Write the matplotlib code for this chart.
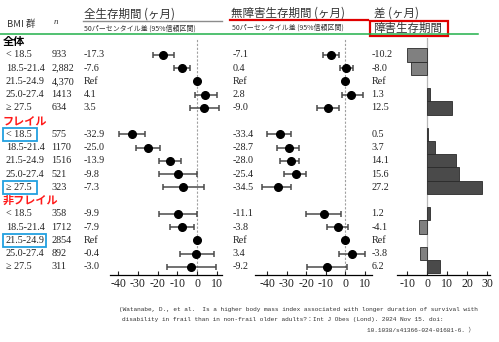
import numpy as np
import matplotlib
matplotlib.use('Agg')
import matplotlib.pyplot as plt
from matplotlib.patches import Rectangle

W, H = 499, 342

# row labels
bmi_groups = ['< 18.5', '18.5-21.4', '21.5-24.9', '25.0-27.4', '≥ 27.5']
sections = ['全体', 'フレイル', '非フレイル']
n_labels = ['933', '2,882', '4,370', '1413', '634',
            '575', '1170', '1516', '521', '323',
            '358', '1712', '2854', '892', '311']

# overall survival, 50th percentile difference (months)
os_labels = ['-17.3', '-7.6', 'Ref', '4.1', '3.5',
             '-32.9', '-25.0', '-13.9', '-9.8', '-7.3',
             '-9.9', '-7.9', 'Ref', '-0.4', '-3.0']
os_lo = [-22.2, -11.5, 0, -1.0, -3.6,
         -39.4, -31.1, -19.3, -19.1, -17.4,
         -19.3, -13.9, 0, -8.8, -15.2]
os_hi = [-11.7, -3.6, 0, 10.0, 11.2,
         -26.4, -18.6, -8.1, -0.2, 3.4,
         -0.2, -1.5, 0, 8.5, 9.8]

# disability-free survival
dfs_labels = ['-7.1', '0.4', 'Ref', '2.8', '-9.0',
              '-33.4', '-28.7', '-28.0', '-25.4', '-34.5',
              '-11.1', '-3.8', 'Ref', '3.4', '-9.2']
dfs_lo = [-11.3, -2.6, 0, -1.9, -14.7,
          -40.2, -34.8, -33.7, -31.6, -42.8,
          -19.9, -9.3, 0, -3.1, -19.6]
dfs_hi = [-3.1, 3.8, 0, 9.0, -3.1,
          -28.0, -23.9, -23.5, -20.1, -28.0,
          -2.4, 1.6, 0, 10.2, 1.0]

# difference = survival with disability
diff_labels = ['-10.2', '-8.0', 'Ref', '1.3', '12.5',
               '0.5', '3.7', '14.1', '15.6', '27.2',
               '1.2', '-4.1', 'Ref', '-3.8', '6.2']

fwd_ticks = [-40, -30, -20, -10, 0, 10]
diff_ticks = [-10, 0, 10, 20, 30]

JP = ['Noto Sans CJK JP', 'DejaVu Sans']
plt.rcParams['font.family'] = ['Liberation Serif', 'Noto Sans CJK JP']
plt.rcParams['axes.unicode_minus'] = False


def to_num(labels):
    return np.array([0.0 if s == 'Ref' else float(s) for s in labels])


# row positions: a header row before each block of 5
rows = []
header_rows = []
r = 0
for s in sections:
    header_rows.append(r)
    r += 1
    for _ in bmi_groups:
        rows.append(r)
        r += 1
rows = np.array(rows)
is_ref = np.array([s == 'Ref' for s in os_labels])

row0_px, row_step = 41.7, 13.24
y_bot_px, y_top_px = 275.0, 37.7
ylim = ((y_bot_px - row0_px) / row_step, (y_top_px - row0_px) / row_step)
ax_b = 1 - y_bot_px / H
ax_h = (y_bot_px - y_top_px) / H

fig = plt.figure(figsize=(W / 100, H / 100), dpi=100)

# background axis in pixel x / row y for the table text
bg = fig.add_axes([0, ax_b, 1, ax_h])
bg.set_xlim(0, W)
bg.set_ylim(*ylim)
bg.axis('off')

txt = dict(fontsize=7.3, color='#222222', va='center')
for i, row in enumerate(rows):
    bg.text(6, row, bmi_groups[i % 5], **txt)
    bg.text(51.5, row, n_labels[i], **txt)
    bg.text(83.5, row, os_labels[i], **txt)
    bg.text(232.5, row, dfs_labels[i], **txt)
    bg.text(371.5, row, diff_labels[i], **txt)

sec_colors = ['black', '#ff1a1a', '#ff1a1a']
for s, hr, c in zip(sections, header_rows, sec_colors):
    bg.text(3, hr, s, fontsize=8, fontweight='bold', color=c, va='center', family=JP)

# blue highlight boxes
for row_i, wpx in [(rows[5], 34), (rows[9], 34), (rows[12], 43.5)]:
    bg.add_patch(Rectangle((2.8, row_i - 0.47), wpx, 0.94, fill=False,
                           edgecolor='#22a0e0', lw=1.3, clip_on=False))


def forest(left_px, right_px, xlim, est, lo, hi):
    ax = fig.add_axes([left_px / W, ax_b, (right_px - left_px) / W, ax_h])
    m = ~is_ref
    ax.errorbar(est[m], rows[m], xerr=[est[m] - np.array(lo)[m], np.array(hi)[m] - est[m]],
                fmt='o', color='black', ecolor='#4a4a4a', elinewidth=1.1,
                capsize=2.4, capthick=1.1, markersize=5.5, zorder=3)
    ax.plot(est[is_ref], rows[is_ref], 'o', color='black', markersize=5.5, zorder=3)
    ax.axvline(0, color='#a0a0a0', lw=0.8, ls=(0, (2, 1.5)), zorder=1)
    ax.set_xlim(*xlim)
    ax.set_ylim(*ylim)
    ax.set_xticks(fwd_ticks)
    ax.set_yticks([])
    for sp in ['top', 'left', 'right']:
        ax.spines[sp].set_visible(False)
    ax.spines['bottom'].set_linewidth(0.9)
    ax.tick_params(axis='x', direction='in', length=3, width=0.8, labelsize=8.6,
                   pad=2, colors='#222222')
    ax.patch.set_alpha(0)
    return ax


forest(110, 221.7, (-44.2, 12.5), to_num(os_labels), os_lo, os_hi)
forest(255, 371.7, (-46.3, 13.6), to_num(dfs_labels), dfs_lo, dfs_hi)

# difference bars
ax3 = fig.add_axes([396.7 / W, ax_b, (490 - 396.7) / W, ax_h])
diff = to_num(diff_labels)
m = ~is_ref
bar_cols = ['#808080' if v < 0 else '#4a4a4a' for v in diff[m]]
ax3.barh(rows[m], diff[m], height=1.0, color=bar_cols, edgecolor='#2a2a2a', lw=0.6, zorder=2)
ax3.axvline(0, color='#b8b8b8', lw=0.9, zorder=1)
ax3.set_xlim(-15.4, 31.3)
ax3.set_ylim(*ylim)
ax3.set_xticks(diff_ticks)
ax3.set_yticks([])
for sp in ['top', 'left', 'right']:
    ax3.spines[sp].set_visible(False)
ax3.spines['bottom'].set_linewidth(0.9)
ax3.tick_params(axis='x', direction='in', length=3, width=0.8, labelsize=8.6,
                pad=2, colors='#222222')
ax3.patch.set_alpha(0)


# header
def fx(x):
    return x / W


def fy(y):
    return 1 - y / H


hdr = dict(color='#333333', va='center', family=JP)
fig.text(fx(7), fy(24), 'BMI 群', fontsize=6.8, **hdr)
fig.text(fx(54), fy(22), 'n', fontsize=6.5, style='italic', color='#333333', va='center')
fig.text(fx(84), fy(14.5), '全生存期間 (ヶ月)', fontsize=8.3, **hdr)
fig.text(fx(84), fy(28.5), '50パーセンタイル差 (95%信頼区間)', fontsize=5.0, **hdr)
fig.text(fx(231), fy(13), '無障害生存期間 (ヶ月)', fontsize=8.3, **hdr)
fig.text(fx(232), fy(28), '50パーセンタイル差 (95%信頼区間)', fontsize=5.0, **hdr)
fig.text(fx(374), fy(13.5), '差 (ヶ月)', fontsize=8.3, **hdr)

fig.add_artist(plt.Line2D([fx(83), fx(222)], [fy(20.5), fy(20.5)], color='#8c8c8c', lw=1.0))
fig.add_artist(plt.Line2D([fx(230), fx(368)], [fy(19.5), fy(19.5)], color='#e00000', lw=1.6))
fig.add_artist(plt.Line2D([fx(0), fx(478)], [fy(33.5), fy(33.5)], color='#22b04a', lw=1.1))
fig.add_artist(Rectangle((fx(369.5), fy(36)), (448 - 369.5) / W, 15.5 / H,
                         transform=fig.transFigure, facecolor='white',
                         edgecolor='#e00000', lw=1.6))
fig.text(fx(373), fy(28.2), '障害生存期間', fontsize=8.3, zorder=5, **hdr)

# citation
MONO = ['Liberation Mono', 'Noto Sans CJK JP']
cit = dict(fontsize=4.4, color='#333333', va='center', family=MONO)
fig.text(fx(119), fy(310), '(Watanabe, D., et al.  Is a higher body mass index associated '
         'with longer duration of survival with', **cit)
fig.text(fx(122), fy(320), 'disability in frail than in non-frail older adults?：Int J Obes '
         '(Lond). 2024 Nov 15. doi:', **cit)
fig.text(fx(367), fy(329.5), '10.1038/s41366-024-01681-6. ）', **cit)

fig.savefig('out.png', dpi=100)
